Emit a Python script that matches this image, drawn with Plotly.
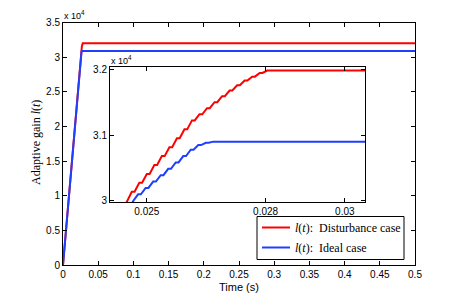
import plotly.graph_objects as go

# ---- data ----
t_red = [0, 0.02450, 0.02462, 0.02469, 0.02481, 0.02488, 0.02500, 0.02507, 0.02519, 0.02526,
         0.02538, 0.02545, 0.02557, 0.02564, 0.02576, 0.02583, 0.02595, 0.02602, 0.02614, 0.02621,
         0.02633, 0.02640, 0.02652, 0.02659, 0.02671, 0.02678, 0.02690, 0.02697, 0.02709, 0.02716,
         0.02728, 0.02735, 0.02747, 0.02754, 0.02766, 0.02773, 0.02785, 0.02792, 0.02804, 0.5]
l_red = [0, 30000, 30136, 30136, 30273, 30273, 30409, 30409, 30546, 30546,
         30682, 30682, 30818, 30818, 30955, 30955, 31091, 31091, 31228, 31228,
         31322, 31322, 31415, 31415, 31507, 31507, 31599, 31599, 31685, 31685,
         31765, 31765, 31839, 31839, 31897, 31897, 31953, 31953, 31990, 31990]

t_blue = [0, 0.02466, 0.02478, 0.02485, 0.02497, 0.02504, 0.02516, 0.02523, 0.02535, 0.02542,
          0.02554, 0.02561, 0.02573, 0.02580, 0.02592, 0.02599, 0.02611, 0.02618, 0.02630, 0.02637,
          0.02649, 0.02656, 0.02668, 0.5]
l_blue = [0, 30000, 30097, 30097, 30195, 30195, 30292, 30292, 30390, 30390,
          30487, 30487, 30585, 30585, 30682, 30682, 30780, 30780, 30850, 30850,
          30885, 30885, 30903, 30903]

main_xticks = [0, 0.05, 0.1, 0.15, 0.2, 0.25, 0.3, 0.35, 0.4, 0.45, 0.5]
main_xticklabels = ["0", "0.05", "0.1", "0.15", "0.2", "0.25", "0.3", "0.35", "0.4", "0.45", "0.5"]
main_yticks = [0, 5000, 10000, 15000, 20000, 25000, 30000, 35000]
main_yticklabels = ["0", "0.5", "1", "1.5", "2", "2.5", "3", "3.5"]
inset_xticks = [0.025, 0.028, 0.03]
inset_xticklabels = ["0.025", "0.028", "0.03"]
inset_yticks = [30000, 31000, 32000]
inset_yticklabels = ["3", "3.1", "3.2"]

series_names = ["<i>l</i>(<i>t</i>):  Disturbance case", "<i>l</i>(<i>t</i>):  Ideal case"]
RED = "#ff0000"
BLUE = "#1f3fff"
colors = [RED, BLUE]

W, H = 458, 299
def px(x):
    return x / W
def py(y):
    return 1 - y / H

fig = go.Figure()
# main
fig.add_trace(go.Scatter(x=t_red, y=l_red, mode="lines", line=dict(color=RED, width=2),
                         name="Disturbance case", showlegend=False, xaxis="x", yaxis="y"))
fig.add_trace(go.Scatter(x=t_blue, y=l_blue, mode="lines", line=dict(color=BLUE, width=2),
                         name="Ideal case", showlegend=False, xaxis="x", yaxis="y"))
# inset
fig.add_trace(go.Scatter(x=t_red, y=l_red, mode="lines", line=dict(color=RED, width=2),
                         showlegend=False, xaxis="x2", yaxis="y2"))
fig.add_trace(go.Scatter(x=t_blue, y=l_blue, mode="lines", line=dict(color=BLUE, width=2),
                         showlegend=False, xaxis="x2", yaxis="y2"))

tickfont = dict(family="Liberation Sans", size=10, color="#000")
axis_common = dict(showline=True, linecolor="#000", linewidth=1, mirror="ticks", ticks="inside",
                   ticklen=4, tickcolor="#000", showgrid=False, zeroline=False, tickfont=tickfont,
                   automargin=False)

# legend drawn as box + line samples + text
leg_x0, leg_x1, leg_y0, leg_y1 = 257, 404, 216.5, 259.5
row_y = [227.5, 247.5]
shapes = [dict(type="rect", xref="paper", yref="paper", x0=px(leg_x0), x1=px(leg_x1),
               y0=py(leg_y1), y1=py(leg_y0), line=dict(color="#000", width=1),
               fillcolor="white", layer="above")]
annotations = []
for name, col, ry in zip(series_names, colors, row_y):
    shapes.append(dict(type="line", xref="paper", yref="paper", x0=px(262), x1=px(290),
                       y0=py(ry), y1=py(ry), line=dict(color=col, width=2), layer="above"))
    annotations.append(dict(text=name, x=px(293), y=py(ry), xref="paper", yref="paper",
                            showarrow=False, xanchor="left", yanchor="middle",
                            font=dict(family="Liberation Serif", size=12, color="#000")))

annotations += [
    dict(text="Time (s)", x=px(239), y=py(286.5), xref="paper", yref="paper",
         showarrow=False, font=dict(family="Liberation Sans", size=11, color="#000"),
         xanchor="center", yanchor="middle"),
    dict(text="Adaptive gain <i>l</i>(<i>t</i>)", x=px(36), y=py(143), xref="paper", yref="paper",
         showarrow=False, textangle=-90,
         font=dict(family="Liberation Serif", size=12, color="#000"),
         xanchor="center", yanchor="middle"),
    dict(text="x 10<sup>4</sup>", x=px(62), y=py(15), xref="paper", yref="paper",
         showarrow=False, font=dict(family="Liberation Sans", size=9, color="#000"),
         xanchor="left", yanchor="middle"),
    dict(text="x 10<sup>4</sup>", x=px(109), y=py(60), xref="paper", yref="paper",
         showarrow=False, font=dict(family="Liberation Sans", size=9, color="#000"),
         xanchor="left", yanchor="middle"),
]

fig.update_layout(
    width=W, height=H,
    margin=dict(l=0, r=0, t=0, b=0, pad=0, autoexpand=False),
    paper_bgcolor="white", plot_bgcolor="white",
    xaxis=dict(domain=[px(63), px(415)], range=[0, 0.5], tickvals=main_xticks,
               ticktext=main_xticklabels, anchor="y", **axis_common),
    yaxis=dict(domain=[py(265), py(22.5)], range=[0, 35000], tickvals=main_yticks,
               ticktext=main_yticklabels, anchor="x", **axis_common),
    xaxis2=dict(domain=[px(110), px(365)], range=[0.02407, 0.03051], tickvals=inset_xticks,
                ticktext=inset_xticklabels, anchor="y2", **axis_common),
    yaxis2=dict(domain=[py(202), py(67.3)], range=[29980, 32040], tickvals=inset_yticks,
                ticktext=inset_yticklabels, anchor="x2", **axis_common),
    showlegend=False,
    shapes=shapes,
    annotations=annotations,
)

fig.write_html("out.html", config={"displayModeBar": False},
               post_script="document.body.style.margin='0';document.body.style.overflow='hidden';")
